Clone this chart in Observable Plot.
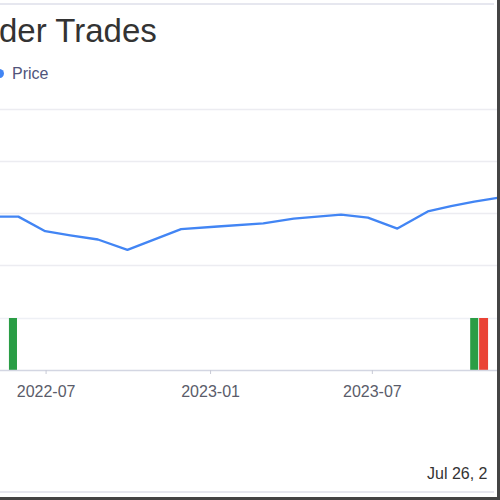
<!DOCTYPE html>
<html><head><meta charset="utf-8">
<script src="https://cdn.jsdelivr.net/npm/d3@7"></script>
<script src="https://cdn.jsdelivr.net/npm/@observablehq/plot@0.6"></script>
<style>
html,body{margin:0;padding:0;background:#fff;}
#frame{position:relative;width:500px;height:500px;overflow:hidden;font-family:"Liberation Sans",Arial,sans-serif;background:#fff;}
#topline{position:absolute;left:0;top:3px;width:494px;height:2px;background:#e6e7ef;}
#title{position:absolute;left:-1px;top:14px;font-size:33px;line-height:33px;color:#333;white-space:nowrap;}
#legend{position:absolute;left:-5px;top:66px;font-size:16px;line-height:16px;color:#50547a;white-space:nowrap;}
#legend .dot{display:inline-block;width:9px;height:9px;border-radius:50%;background:#4285f4;margin-right:8px;vertical-align:middle;position:relative;top:-1px;}
#price{position:absolute;left:0;top:99px;}
#trades{position:absolute;left:0;top:310px;}
#date{position:absolute;left:427px;top:466px;font-size:16px;line-height:16px;color:#333;white-space:nowrap;}
#bottomline{position:absolute;left:0;top:491px;width:494px;height:2px;background:#e6e7ef;}
#rborder{position:absolute;left:497px;top:0;width:3px;height:500px;background:#444;}
#bborder{position:absolute;left:0;top:497px;width:500px;height:3px;background:#444;}
svg{overflow:visible;}
</style></head><body>
<div id="frame">
  <div id="topline"></div>
  <div id="title">der Trades</div>
  <div id="legend"><span class="dot"></span><span>Price</span></div>
  <div id="price"></div>
  <div id="trades"></div>
  <div id="date">Jul 26, 2</div>
  <div id="bottomline"></div>
  <div id="rborder"></div>
  <div id="bborder"></div>
</div>
<script>
// ---- data ----
const priceDates = ["2022-05-11","2022-05-31","2022-06-30","2022-07-28","2022-08-28","2022-09-30","2022-11-29","2023-01-09","2023-03-01","2023-04-04","2023-05-27","2023-06-26","2023-07-29","2023-09-01","2023-09-27","2023-10-23","2023-11-18"];
const priceValues = [29.7,29.7,28.3,27.9,27.5,26.5,28.5,28.75,29.05,29.5,29.9,29.6,28.55,30.2,30.7,31.15,31.5];
const gridValues = [25,30,35,40];
const tradeStart = ["2022-05-21","2023-10-19","2023-10-29"];
const tradeEnd   = ["2022-05-30","2023-10-28","2023-11-08"];
const tradeType  = ["Buy","Buy","Sell"];
const tickDates  = ["2022-07-01","2023-01-01","2023-07-01"];
const xDomain    = ["2022-05-11","2023-11-18"];

const P = d3.utcParse("%Y-%m-%d");
const price = priceDates.map((d,i)=>({date:P(d), value:priceValues[i]}));
const trades = tradeStart.map((d,i)=>({start:P(d), end:P(tradeEnd[i]), type:tradeType[i], v:1}));
const xd = xDomain.map(P);

const W = 497;
const font = {fontFamily:"'Liberation Sans', Arial, sans-serif", background:"transparent"};

const pricePlot = Plot.plot({
  width: W, height: 176,
  marginTop: 10, marginBottom: 10, marginLeft: 0, marginRight: 0,
  style: font,
  x: {type:"utc", domain: xd, axis: null},
  y: {domain: [25, 40], axis: null},
  marks: [
    Plot.ruleY(gridValues, {stroke:"#ececf1", strokeWidth:1.5}),
    Plot.line(price, {x:"date", y:"value", stroke:"#4285f4", strokeWidth:2.3, curve:"linear"})
  ]
});
document.getElementById("price").appendChild(pricePlot);

const tradePlot = Plot.plot({
  width: W, height: 100,
  marginTop: 8, marginBottom: 40, marginLeft: 0, marginRight: 0,
  style: font,
  x: {type:"utc", domain: xd},
  y: {domain: [0, 1], axis: null},
  color: {domain: ["Buy","Sell"], range: ["#2a9d45","#ea4335"]},
  marks: [
    Plot.ruleY([1], {stroke:"#eef0f5", strokeWidth:1.5}),
    Plot.rectY(trades, {x1:"start", x2:"end", y:"v", fill:"type"}),
    Plot.ruleY([0], {stroke:"#d3d6e2", strokeWidth:1.5}),
    Plot.axisX({ticks: tickDates.map(P), tickFormat: d3.utcFormat("%Y-%m"), tickSize: 4, tickPadding: 11, stroke:"#c8cad6", fill:"#5a5c6a", fontSize: 16})
  ]
});
document.getElementById("trades").appendChild(tradePlot);
</script>
</body></html>
